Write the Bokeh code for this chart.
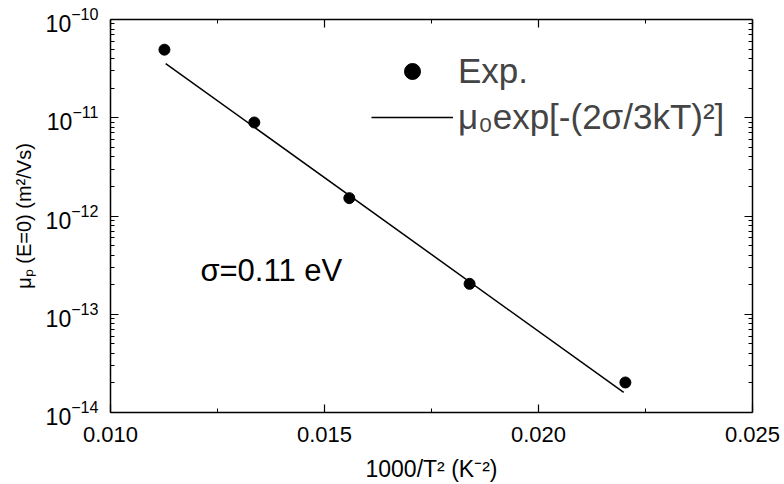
from bokeh.plotting import figure
from bokeh.models import (FixedTicker, LogTickFormatter, LinearAxis, LogAxis, Legend,
                          LegendItem, Label, PrintfTickFormatter, Range1d, CustomJSTickFormatter)
from bokeh.embed import file_html
from bokeh.resources import INLINE

# data
inv_T2 = [0.01126, 0.01336, 0.01558, 0.01839, 0.02203]
mobility = [4.93e-11, 8.95e-12, 1.52e-12, 2.04e-13, 2.02e-14]
fit_x = [0.01129, 0.02199]
fit_y = [3.56e-11, 1.60e-14]

x_ticks = [0.010, 0.015, 0.020, 0.025]
x_minor = [0.0125, 0.0175, 0.0225]
y_ticks = [1e-14, 1e-13, 1e-12, 1e-11, 1e-10]
y_minor = [m * 10.0 ** e for e in range(-14, -10) for m in range(2, 10)]

FONT = "Liberation Sans"

p = figure(width=784, height=484, x_range=Range1d(0.010, 0.025),
           y_range=Range1d(1e-14, 1e-10),
           y_axis_type="log", output_backend="svg", toolbar_location=None,
           min_border_left=110, min_border_top=19, min_border_right=32, min_border_bottom=70)
p.grid.visible = False
p.outline_line_color = None
p.background_fill_color = "white"

xt = FixedTicker(ticks=x_ticks, minor_ticks=x_minor)
yt = FixedTicker(ticks=y_ticks, minor_ticks=y_minor)
blank = CustomJSTickFormatter(code="return ''")

def style(ax):
    ax.axis_line_width = 1.5
    ax.axis_line_color = "black"
    ax.major_tick_in = 8
    ax.major_tick_out = 0
    ax.minor_tick_in = 4
    ax.minor_tick_out = 0
    ax.major_tick_line_width = 1.2
    ax.minor_tick_line_width = 1.0
    ax.major_label_text_font = FONT
    ax.major_label_text_color = "black"
    ax.axis_label_text_font = FONT
    ax.axis_label_text_font_style = "normal"
    ax.axis_label_text_color = "black"

xa = p.xaxis[0]
xa.ticker = xt
xa.formatter = PrintfTickFormatter(format="%.3f")
style(xa)
xa.major_label_text_font_size = "22px"
xa.major_label_standoff = 14
xa.axis_label = "1000/T² (K⁻²)"
xa.axis_label_text_font_size = "23px"
xa.axis_label_standoff = 11

ya = p.yaxis[0]
ya.ticker = yt
ya.formatter = LogTickFormatter()
style(ya)
ya.major_label_text_font_size = "23px"
ya.major_label_standoff = 12
ya.axis_label = "μₚ (E=0) (m²/Vs)"
ya.axis_label_text_font_size = "20px"
ya.axis_label_standoff = 8

top = LinearAxis(ticker=xt, formatter=blank, major_label_standoff=0)
style(top)
p.add_layout(top, "above")
right = LogAxis(ticker=yt, formatter=blank, major_label_standoff=0)
style(right)
p.add_layout(right, "right")

dots = p.scatter(inv_T2, mobility, size=11, color="black")
fit = p.line(fit_x, fit_y, line_width=1.5, color="black")

legend = Legend(items=[LegendItem(label="Exp.", renderers=[dots]),
                       LegendItem(label="μ₀exp[-(2σ/3kT)²]", renderers=[fit])],
                location=(261, 275), padding=0, margin=0, spacing=6,
                glyph_width=82, glyph_height=40, label_height=40, label_standoff=5,
                label_text_font=FONT, label_text_font_size="35px",
                border_line_alpha=0, background_fill_alpha=0)
p.add_layout(legend)

p.add_layout(Label(x=0.0121, y=2.78e-13, text="σ=0.11 eV", text_font=FONT,
                   text_font_size="31px", text_baseline="middle", text_color="black"))

open("out.html", "w").write(file_html(p, INLINE))
